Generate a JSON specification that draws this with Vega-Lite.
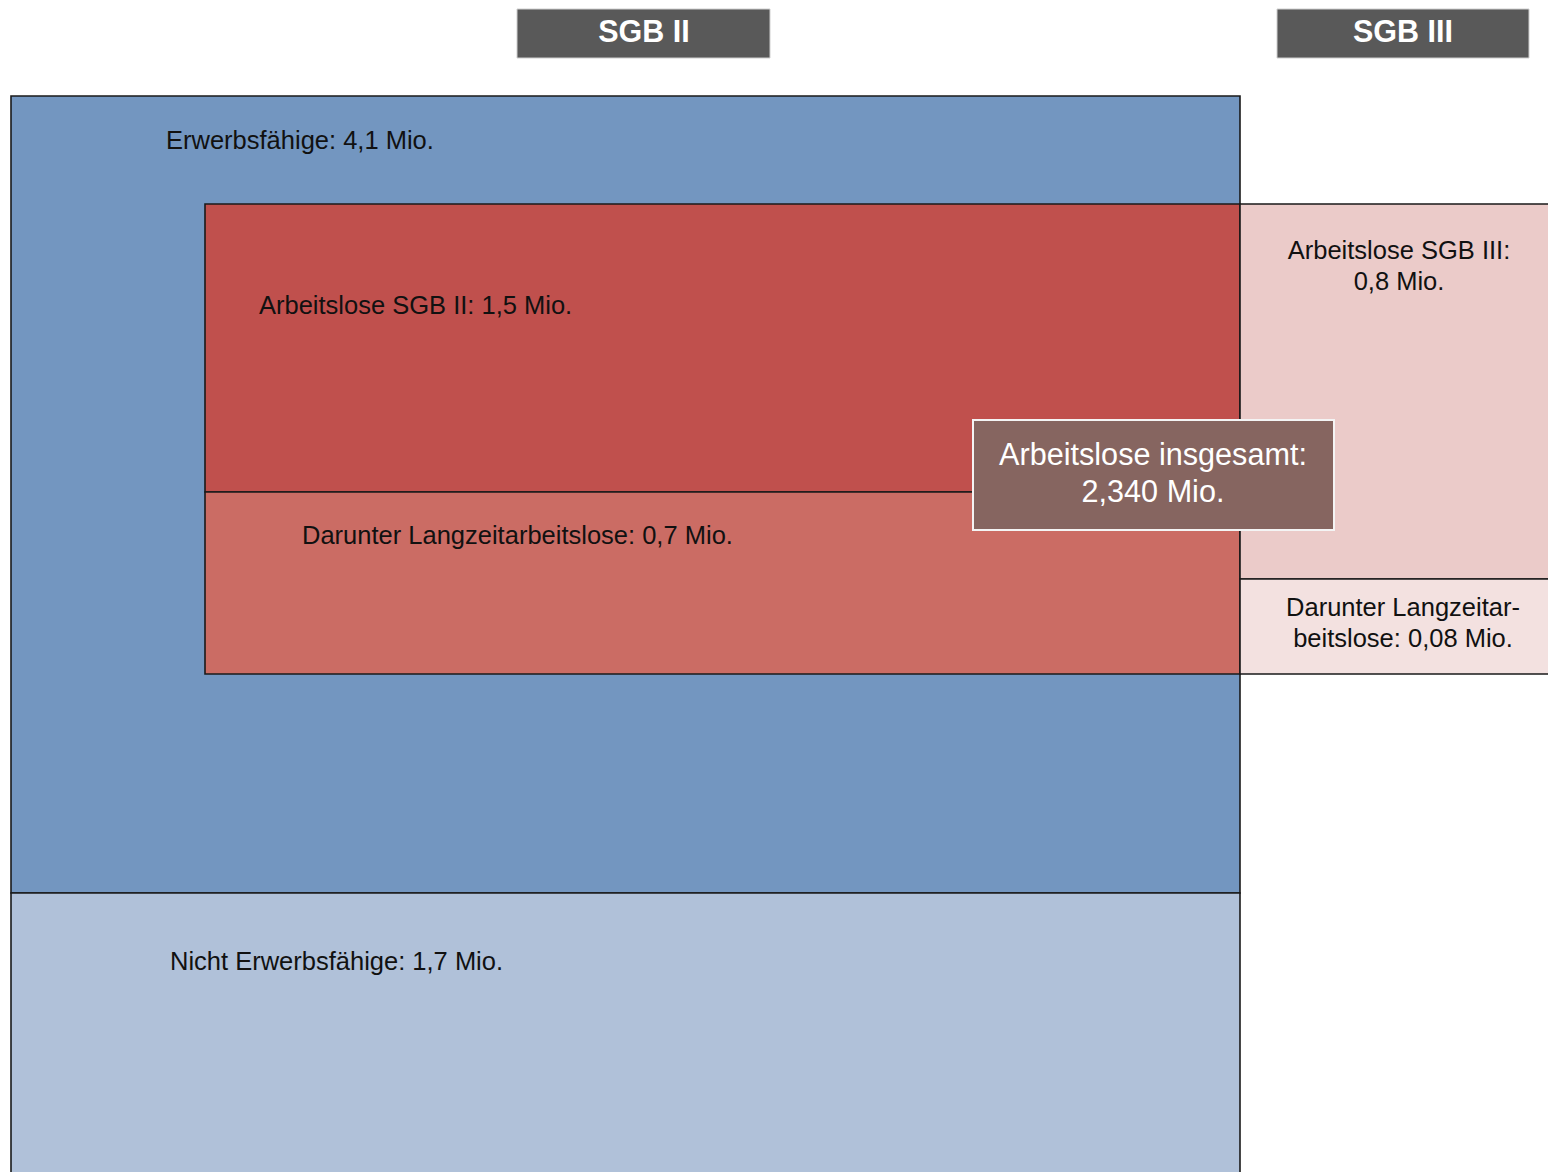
{
  "$schema": "https://vega.github.io/schema/vega-lite/v6.json",
  "width": 1548,
  "height": 1172,
  "padding": 0,
  "autosize": {"type": "fit", "contains": "padding"},
  "background": "white",
  "config": {"view": {"stroke": null}},
  "datasets": {
    "boxes": [
      {"id": "Erwerbsfähige", "x": 11, "x2": 1240, "y": 96, "y2": 893},
      {"id": "Nicht Erwerbsfähige", "x": 11, "x2": 1240, "y": 893, "y2": 1185},
      {"id": "Arbeitslose SGB II", "x": 205, "x2": 1240, "y": 204, "y2": 492},
      {"id": "Langzeit SGB II", "x": 205, "x2": 1240, "y": 492, "y2": 674},
      {"id": "Arbeitslose SGB III", "x": 1240, "x2": 1565, "y": 204, "y2": 579},
      {"id": "Langzeit SGB III", "x": 1240, "x2": 1565, "y": 579, "y2": 674}
    ],
    "headers": [
      {"label": "SGB II", "x": 517, "x2": 770, "y": 9, "y2": 58, "cx": 644, "cy": 33},
      {"label": "SGB III", "x": 1277, "x2": 1529, "y": 9, "y2": 58, "cx": 1403, "cy": 33}
    ],
    "total": [
      {"label": "Arbeitslose insgesamt:\n2,340 Mio.", "x": 973, "x2": 1334, "y": 420, "y2": 530, "cx": 1153, "cy": 456}
    ],
    "leftLabels": [
      {"label": "Erwerbsfähige: 4,1 Mio.", "x": 166, "y": 141},
      {"label": "Arbeitslose SGB II: 1,5 Mio.", "x": 259, "y": 306},
      {"label": "Darunter Langzeitarbeitslose: 0,7 Mio.", "x": 302, "y": 536},
      {"label": "Nicht Erwerbsfähige: 1,7 Mio.", "x": 170, "y": 962}
    ],
    "centerLabels": [
      {"label": "Arbeitslose SGB III:\n0,8 Mio.", "x": 1399, "y": 251},
      {"label": "Darunter Langzeitar-\nbeitslose: 0,08 Mio.", "x": 1403, "y": 608}
    ]
  },
  "layer": [
    {
      "data": {"name": "boxes"},
      "mark": {"type": "rect", "stroke": "#1a1a1a", "strokeWidth": 1.6, "clip": true},
      "encoding": {
        "x": {"field": "x", "type": "quantitative", "scale": {"domain": [0, 1548], "nice": false, "zero": false}, "axis": null},
        "x2": {"field": "x2"},
        "y": {"field": "y", "type": "quantitative", "scale": {"domain": [0, 1172], "nice": false, "zero": false, "reverse": true}, "axis": null},
        "y2": {"field": "y2"},
        "fill": {
          "field": "id", "type": "nominal", "legend": null,
          "scale": {
            "domain": ["Erwerbsfähige", "Nicht Erwerbsfähige", "Arbeitslose SGB II", "Langzeit SGB II", "Arbeitslose SGB III", "Langzeit SGB III"],
            "range": ["#7396C0", "#B0C1D9", "#C0504D", "#CB6C64", "#EBCBC9", "#F3E1E0"]
          }
        }
      }
    },
    {
      "data": {"name": "headers"},
      "mark": {"type": "rect", "fill": "#595959", "stroke": "#cfcfcf", "strokeWidth": 1},
      "encoding": {
        "x": {"field": "x", "type": "quantitative"},
        "x2": {"field": "x2"},
        "y": {"field": "y", "type": "quantitative"},
        "y2": {"field": "y2"}
      }
    },
    {
      "data": {"name": "headers"},
      "mark": {"type": "text", "font": "Liberation Sans", "fontWeight": "bold", "fontSize": 30.5, "color": "white", "align": "center", "baseline": "middle"},
      "encoding": {
        "x": {"field": "cx", "type": "quantitative"},
        "y": {"field": "cy", "type": "quantitative"},
        "text": {"field": "label"}
      }
    },
    {
      "data": {"name": "total"},
      "mark": {"type": "rect", "fill": "#866560", "stroke": "#f4f4f4", "strokeWidth": 2},
      "encoding": {
        "x": {"field": "x", "type": "quantitative"},
        "x2": {"field": "x2"},
        "y": {"field": "y", "type": "quantitative"},
        "y2": {"field": "y2"}
      }
    },
    {
      "data": {"name": "total"},
      "mark": {"type": "text", "font": "Liberation Sans", "fontSize": 30.6, "color": "white", "align": "center", "baseline": "middle", "lineBreak": "\n", "lineHeight": 37},
      "encoding": {
        "x": {"field": "cx", "type": "quantitative"},
        "y": {"field": "cy", "type": "quantitative"},
        "text": {"field": "label"}
      }
    },
    {
      "data": {"name": "leftLabels"},
      "mark": {"type": "text", "font": "Liberation Sans", "fontSize": 25.5, "color": "#111111", "align": "left", "baseline": "middle"},
      "encoding": {
        "x": {"field": "x", "type": "quantitative"},
        "y": {"field": "y", "type": "quantitative"},
        "text": {"field": "label"}
      }
    },
    {
      "data": {"name": "centerLabels"},
      "mark": {"type": "text", "font": "Liberation Sans", "fontSize": 25.5, "color": "#111111", "align": "center", "baseline": "middle", "lineBreak": "\n", "lineHeight": 31},
      "encoding": {
        "x": {"field": "x", "type": "quantitative"},
        "y": {"field": "y", "type": "quantitative"},
        "text": {"field": "label"}
      }
    }
  ]
}
